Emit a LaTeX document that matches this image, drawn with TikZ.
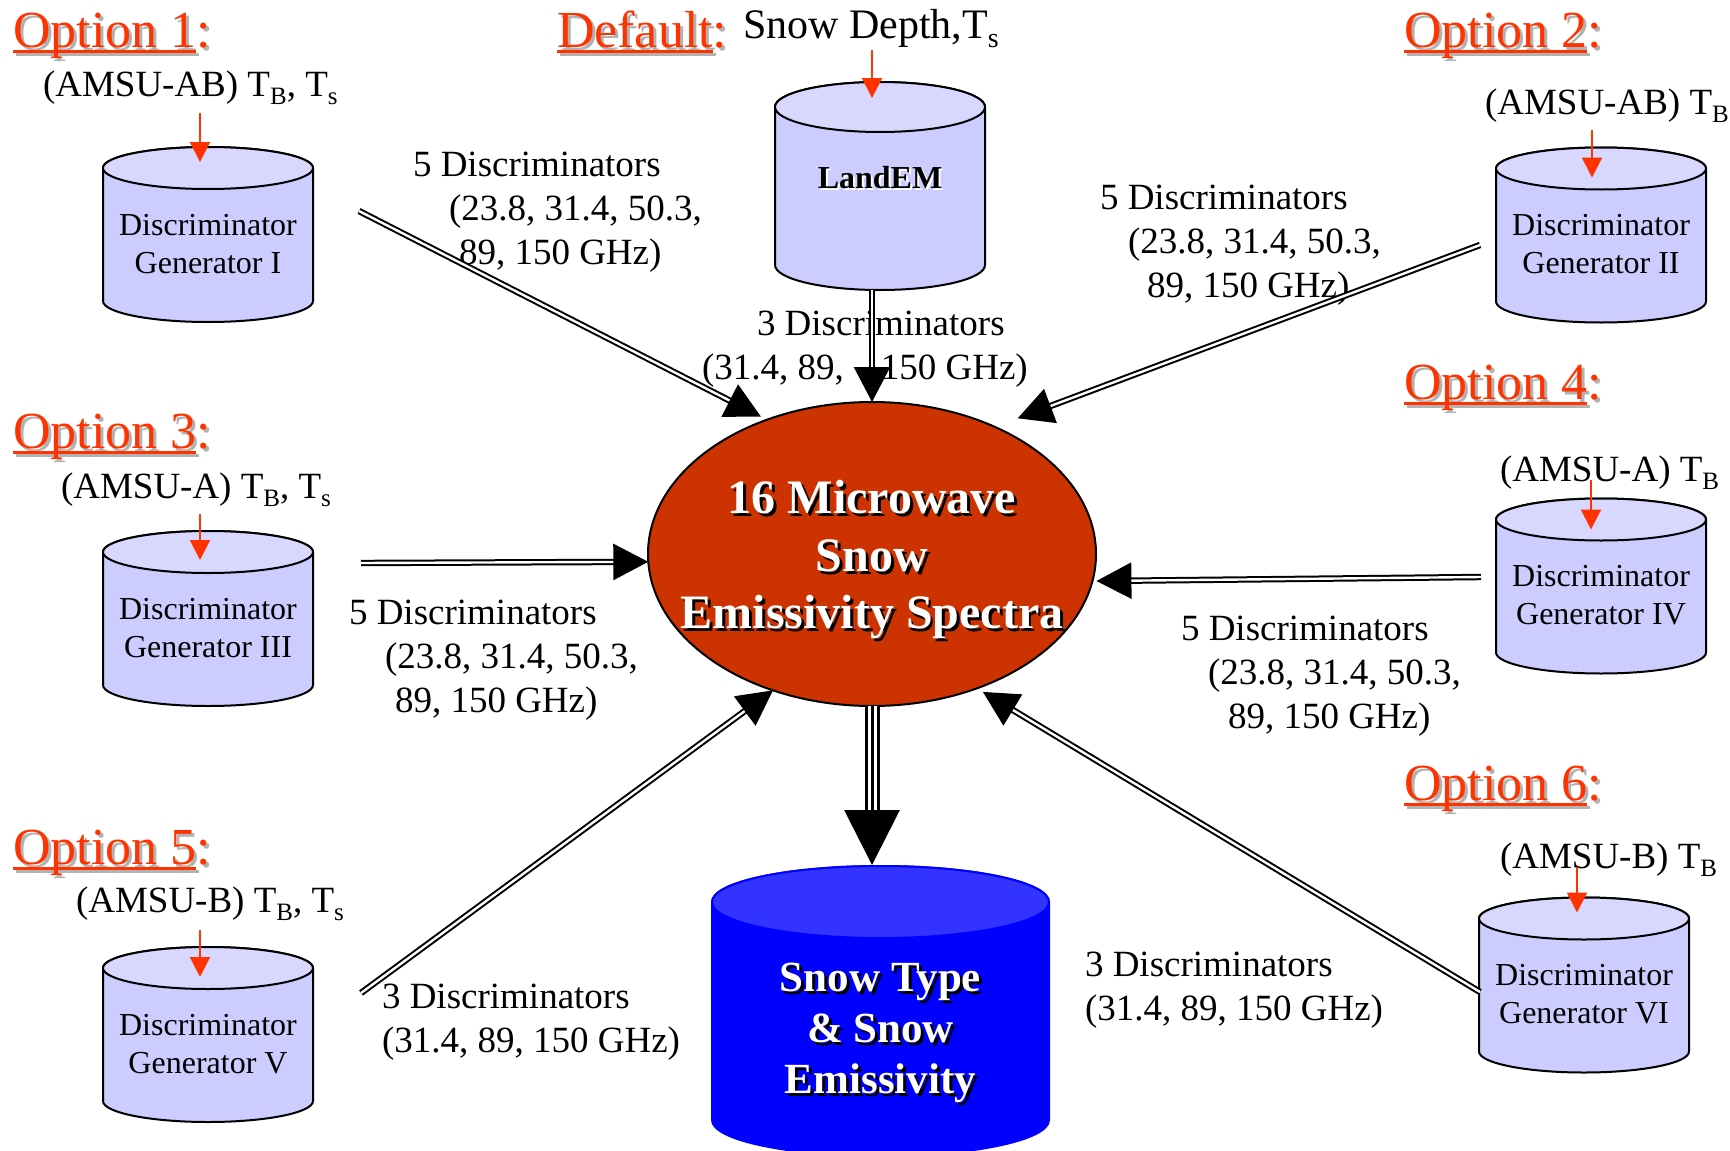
\documentclass[tikz,border=0pt]{standalone}
\usepackage{fontspec}
\setmainfont{Liberation Serif}
\usetikzlibrary{shapes.geometric,arrows.meta,calc}

\definecolor{optred}{RGB}{255,51,0}
\definecolor{optshadow}{RGB}{178,178,178}
\definecolor{emred}{RGB}{204,51,0}
\definecolor{cylbody}{RGB}{204,204,255}
\definecolor{cyltop}{RGB}{216,216,255}
\definecolor{dbbody}{RGB}{0,0,255}
\definecolor{dbtop}{RGB}{51,51,255}

% font sizes (1pt in the picture = one pixel of the drawing)
\newcommand\optfnt{\fontsize{52}{60}\selectfont}
\newcommand\bodyfnt{\fontsize{37}{44}\selectfont}
\newcommand\depthfnt{\fontsize{42}{48}\selectfont}
\newcommand\cylfnt{\fontsize{32}{38}\selectfont}
\newcommand\landfnt{\bfseries\fontsize{32}{36}\selectfont}
\newcommand\sphfnt{\bfseries\fontsize{48}{57.5}\selectfont}
\newcommand\dbfnt{\bfseries\fontsize{43}{51}\selectfont}

% lowered small letters for T_B, T_s
\newcommand\lowsub[1]{\raisebox{-8pt}{\fontsize{25}{25}\selectfont #1}}
\newcommand\lowsubbig[1]{\raisebox{-9pt}{\fontsize{28}{28}\selectfont #1}}
% text with an offset copy behind it
\newcommand\shadowtext[3]{\makebox[0pt][l]{\kern#3\raisebox{-#3}{\color{#1}#2}}#2}
% underlined heading word, colon not underlined
\newcommand\optuline[1]{\setbox0\hbox{#1}\rlap{\rule[-6pt]{\wd0}{3pt}}\box0}
\newcommand\optlabel[1]{\shadowtext{optshadow}{\optuline{#1}:}{3pt}}

\tikzset{
  cyl rx/.store in=\cylrx, cyl ry/.store in=\cylry,
  cyl body/.store in=\cylbodycol, cyl top/.store in=\cyltopcol,
  cyl edge/.store in=\cyledgecol,
  cyl rx=105pt, cyl ry=21pt, cyl body=cylbody, cyl top=cyltop, cyl edge=black,
  drum/.style={rectangle, draw=none,
    path picture={
      \draw[line width=2pt, draw=\cyledgecol, fill=\cylbodycol]
        ([shift={(1pt,{-1pt-\cylry})}]path picture bounding box.north west)
        -- ([shift={(1pt,{1pt+\cylry})}]path picture bounding box.south west)
        arc[start angle=180, end angle=360, x radius=\cylrx, y radius=\cylry]
        -- ([shift={(-1pt,{-1pt-\cylry})}]path picture bounding box.north east)
        arc[start angle=0, end angle=180, x radius=\cylrx, y radius=\cylry]
        -- cycle;
      \draw[line width=2pt, draw=\cyledgecol, fill=\cyltopcol]
        ([yshift={-1pt-\cylry}]path picture bounding box.north)
        ellipse[x radius=\cylrx, y radius=\cylry];
    }},
  small drum/.style={drum, minimum width=212pt, minimum height=177pt,
    cyl rx=105pt, cyl ry=21pt},
}

\begin{document}
\begin{tikzpicture}[x=1pt, y=-1pt,
  every node/.style={inner sep=0pt, outer sep=0pt},
  opt/.style={anchor=base west, text=optred, font=\optfnt},
  txt/.style={anchor=base west, font=\bodyfnt, align=left},
  gentext/.style={font=\cylfnt, align=center, yshift=-9.5pt},
  landtext/.style={font=\landfnt, yshift=7pt},
  dbtext/.style={font=\dbfnt, text=white, align=center, yshift=-23pt},
  inarrow/.style={draw=optred, line width=2pt,
    -{Triangle[length=20pt, width=20pt]}},
  link/.style={draw=white, line width=2.4pt,
    -{Triangle[length=35pt, width=36pt, color=black]},
    preaction={draw=black, line width=6.4pt, -, shorten >=33pt}},
  feed/.style={draw=black, line width=3pt,
    -{Triangle[length=55pt, width=55pt]},
    preaction={draw=black, line width=15pt, -, shorten >=53pt},
    preaction={draw=white, line width=9pt, -, shorten >=53pt}},
]
\useasboundingbox (0,0) rectangle (1730,1151);
\fill[white] (0,0) rectangle (1730,1151);
\clip (0,0) rectangle (1730,1151);

% headings
\node[opt] (opt1) at (13,47) {\optlabel{Option 1}};
\node[opt] (optdef) at (557,47) {\optlabel{Default}};
\node[opt] (opt2) at (1404,47) {\optlabel{Option 2}};
\node[opt] (opt3) at (13,448) {\optlabel{Option 3}};
\node[opt] (opt4) at (1404,399) {\optlabel{Option 4}};
\node[opt] (opt5) at (13,864) {\optlabel{Option 5}};
\node[opt] (opt6) at (1404,800) {\optlabel{Option 6}};

% inputs of each generator
\node[txt] (in1) at (43,96) {(AMSU-AB) T\lowsub{B}, T\lowsub{s}};
\node[txt, font=\depthfnt] (indef) at (743,38) {Snow Depth,T\lowsubbig{s}};
\node[txt] (in2) at (1485,114) {(AMSU-AB) T\lowsub{B}};
\node[txt] (in3) at (61,498) {(AMSU-A) T\lowsub{B}, T\lowsub{s}};
\node[txt] (in4) at (1500,481) {(AMSU-A) T\lowsub{B}};
\node[txt] (in5) at (76,912) {(AMSU-B) T\lowsub{B}, T\lowsub{s}};
\node[txt] (in6) at (1500,868) {(AMSU-B) T\lowsub{B}};

% generators
\node[small drum, label={[gentext]center:Discriminator\\Generator I}] (gen1) at (208,234.5) {};
\node[small drum, label={[gentext]center:Discriminator\\Generator II}] (gen2) at (1601,235) {};
\node[small drum, label={[gentext]center:Discriminator\\Generator III}] (gen3) at (208,618.5) {};
\node[small drum, label={[gentext]center:Discriminator\\Generator IV}] (gen4) at (1601,586) {};
\node[small drum, label={[gentext]center:Discriminator\\Generator V}] (gen5) at (208,1034.5) {};
\node[small drum, label={[gentext]center:Discriminator\\Generator VI}] (gen6) at (1584,985) {};
\node[drum, minimum width=212pt, minimum height=210pt, cyl rx=105pt, cyl ry=25pt,
  label={[landtext]center:\shadowtext{white}{LandEM}{2pt}}] (land) at (880,186) {};

% result store
\node[drum, minimum width=339pt, minimum height=292pt, cyl rx=168.5pt, cyl ry=36pt,
  cyl body=dbbody, cyl top=dbtop, cyl edge=dbbody,
  label={[dbtext]center:\shadowtext{black}{Snow Type}{3pt}\\\shadowtext{black}{\& Snow}{3pt}\\\shadowtext{black}{Emissivity}{3pt}}] (db) at (880.5,1011) {};

% spectra
\node[ellipse, minimum width=448pt, minimum height=304pt, fill=emred, draw=black,
  line width=2pt] (em) at (872,554) {};
\node[font=\sphfnt, text=white, align=center] (emtxt) at ([yshift=-7.5pt]em.center)
  {\shadowtext{black}{16 Microwave}{3pt}\\\shadowtext{black}{Snow}{3pt}\\\shadowtext{black}{Emissivity Spectra}{3pt}};

% channel lists (node base = baseline of the last line)
\node[txt] (lab1) at (413,264) {5 Discriminators\\\hspace*{36pt}(23.8, 31.4, 50.3,\\\hspace*{46pt}89, 150 GHz)};
\node[txt] (labdef) at (702,379) {\hspace*{55pt}3 Discriminators\\(31.4, 89,\hspace{37pt}150 GHz)};
\node[txt] (lab2) at (1100,297) {5 Discriminators\\\hspace*{28pt}(23.8, 31.4, 50.3,\\\hspace*{47pt}89, 150 GHz)};
\node[txt] (lab3) at (349,712) {5 Discriminators\\\hspace*{36pt}(23.8, 31.4, 50.3,\\\hspace*{46pt}89, 150 GHz)};
\node[txt] (lab4) at (1181,728) {5 Discriminators\\\hspace*{27pt}(23.8, 31.4, 50.3,\\\hspace*{47pt}89, 150 GHz)};
\node[txt] (lab5) at (382,1052) {3 Discriminators\\(31.4, 89, 150 GHz)};
\node[txt] (lab6) at (1085,1020) {3 Discriminators\\(31.4, 89, 150 GHz)};

% free ends of the discriminator links
\coordinate (t1) at (359,211);
\coordinate (t2) at (1480,245);
\coordinate (t3) at (361,563);
\coordinate (t4) at (1481,577);
\coordinate (t5) at (361,993);
\coordinate (t6) at (1480,992);

% inputs into the generators
\draw[inarrow] ([shift={(-8,-33)}]gen1.north) -- ([shift={(-8,16)}]gen1.north);
\draw[inarrow] ([shift={(-8,-31)}]land.north) -- ([shift={(-8,17)}]land.north);
\draw[inarrow] ([shift={(-9,-17)}]gen2.north) -- ([shift={(-9,31)}]gen2.north);
\draw[inarrow] ([shift={(-8,-16)}]gen3.north) -- ([shift={(-8,30)}]gen3.north);
\draw[inarrow] ([shift={(-10,-18)}]gen4.north) -- ([shift={(-10,32)}]gen4.north);
\draw[inarrow] ([shift={(-8,-16)}]gen5.north) -- ([shift={(-8,31)}]gen5.north);
\draw[inarrow] ([shift={(-7,-30)}]gen6.north) -- ([shift={(-7,16)}]gen6.north);

% discriminators into the spectra (tips stop just short of the rim)
\draw[link] (t1) -- ($(em.128.6)!7pt!(t1)$);
\draw[link] ([shift={(-8,-1)}]land.south) -- (em.north);
\draw[link] (t2) -- ($(em.46.2)!24.5pt!(t2)$);
\draw[link] (t3) -- (em.182.3);
\draw[link] (t4) -- ($(em.353.9)!4pt!(t4)$);
\draw[link] (t5) -- (em.234.7);
\draw[link] (t6) -- ($(em.308.8)!7pt!(t6)$);

% spectra into the result
\draw[feed] (em.south) -- (em.south |- db.north);
\end{tikzpicture}
\end{document}
